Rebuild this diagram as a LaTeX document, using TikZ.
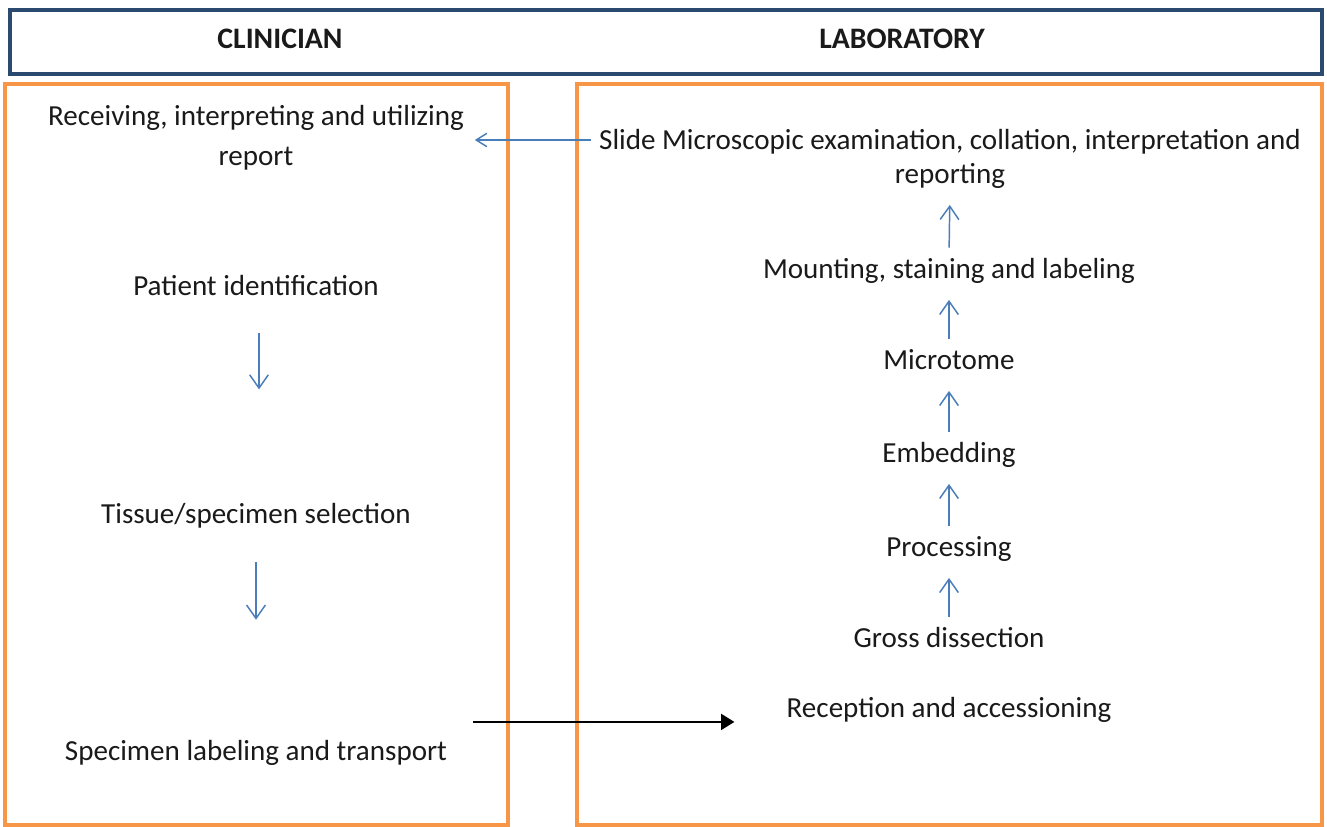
\documentclass[tikz,border=0pt]{standalone}
\usepackage{fontspec}
\setmainfont{Carlito}
\usetikzlibrary{arrows.meta}
\definecolor{navy}{HTML}{2B4A6F}
\definecolor{panel}{HTML}{F79646}
\definecolor{flow}{HTML}{4A7EBB}
\definecolor{ink}{HTML}{1A1A1A}
\begin{document}
\begin{tikzpicture}[x=0.75pt,y=-0.75pt,
  txt/.style={inner sep=0pt,text=ink,font=\fontsize{21.8}{26}\selectfont,
    text height=17.2pt,text depth=3.3pt},
  head/.style={txt,font=\fontsize{22.3}{26}\selectfont\bfseries},
  frame/.style={draw=panel,line width=3pt},
  upflow/.style={draw=flow,line width=1.1pt,-{Straight Barb[length=10pt,width=14pt,line width=1.1pt]},
    shorten <=5.5pt,shorten >=12.75pt},
  downflow/.style={draw=flow,line width=1.1pt,-{Straight Barb[length=10pt,width=14pt,line width=1.1pt]}},
  backflow/.style={draw=flow,line width=1.1pt,-{Straight Barb[length=8pt,width=10pt,line width=1.1pt]}},
  handover/.style={draw=black,line width=1.4pt,-{Triangle[length=10pt,width=12pt]}}]
\useasboundingbox (0,0) rectangle (1327,827);
\fill[white] (0,0) rectangle (1327,827);

% column headers and panels
\draw[navy,line width=3pt] (10,10) rectangle (1322,74);
\draw[frame] (5,84) rectangle (508,825);
\draw[frame] (577,84) rectangle (1322,825);
\node[head] (clin) at (280,39) {CLINICIAN};
\node[head] (lab) at (902,39) {LABORATORY};

% clinician side
\node[txt] (recv1) at (256,116) {Receiving, interpreting and utilizing};
\node[txt] (recv2) at (256,156) {report};
\node[txt] (patient) at (256,286) {Patient identification};
\node[txt] (tissue) at (256,514) {Tissue/specimen selection};
\node[txt] (spec) at (256,751) {Specimen labeling and transport};

% laboratory side
\node[txt] (slide1) at (950,140) {Slide Microscopic examination, collation, interpretation and};
\node[txt] (slide2) at (950,174) {reporting};
\node[txt] (mount) at (949,269) {Mounting, staining and labeling};
\node[txt] (micro) at (949,360) {Microtome};
\node[txt] (embed) at (949,453) {Embedding};
\node[txt] (proc) at (949,547) {Processing};
\node[txt] (gross) at (949,638) {Gross dissection};
\node[txt] (recep) at (949,708) {Reception and accessioning};

% clinician flow
\draw[downflow,shorten <=25pt,shorten >=83pt] ([xshift=2.25pt]patient.south) -- ([xshift=2.25pt]tissue.north);
\draw[downflow,shorten <=25.7pt,shorten >=88pt] (tissue.south) -- (spec.north);

% laboratory flow
\draw[upflow] (gross.north) -- (proc.south);
\draw[upflow] (proc.north) -- (embed.south);
\draw[upflow] (embed.north) -- (micro.south);
\draw[upflow] (micro.north) -- (mount.south);
\draw[upflow] (mount.north) -- (slide2.south);

% hand-overs between the two sides
\draw[backflow,shorten <=6pt,shorten >=8pt] (slide1.west) -- (slide1.west -| recv1.east);
\draw[handover,shorten <=19.5pt,shorten >=39pt] (spec.east |- recep.south) -- (recep.south west);
\end{tikzpicture}
\end{document}
